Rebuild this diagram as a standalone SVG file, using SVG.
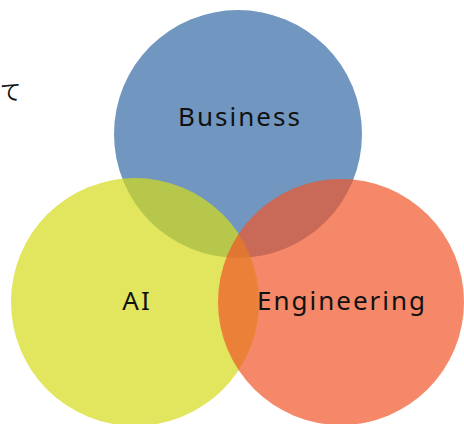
<svg xmlns="http://www.w3.org/2000/svg" width="464" height="424" viewBox="0 0 464 424">
<style>
.lbl{font-family:"Noto Sans","DejaVu Sans",sans-serif;font-size:26px;fill:#111;text-anchor:middle;letter-spacing:2px}
.jp{font-family:"Noto Sans CJK JP",sans-serif;font-size:21px;fill:#111}
</style>
<rect width="464" height="424" fill="#fff"/>
<text class="jp" x="0" y="99">て</text>
<g id="business"><circle cx="238" cy="134" r="124" fill="#7197C1"/></g>
<g id="ai"><circle cx="135" cy="302" r="124" fill="#D6DB19" fill-opacity="0.7"/></g>
<g id="engineering"><circle cx="341" cy="302" r="123" fill="#EF562A" fill-opacity="0.7"/></g>
<g id="labels">
<text class="lbl" x="240" y="126">Business</text>
<text class="lbl" x="137" y="310">AI</text>
<text class="lbl" x="342" y="310">Engineering</text>
</g>
<g id="connectors"/>
</svg>
